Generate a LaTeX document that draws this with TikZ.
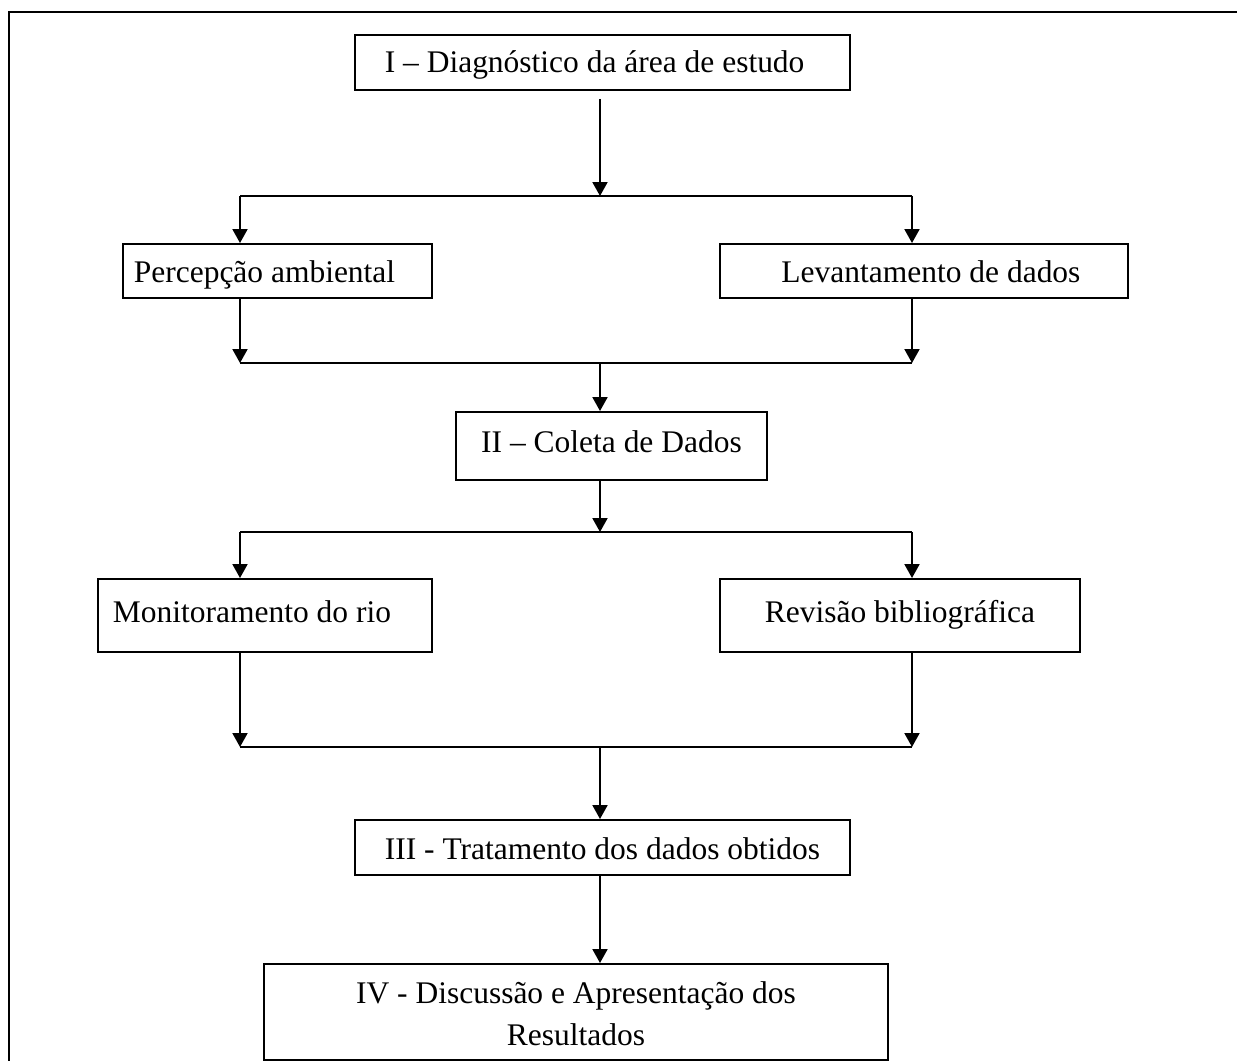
\documentclass[tikz,border=0pt]{standalone}
\usepackage{fontspec}
\setmainfont{Liberation Serif}
\usetikzlibrary{arrows.meta,positioning}

\begin{document}
\begin{tikzpicture}[
    x=0.0134cm, y=-0.0134cm,
    stage/.style={rectangle, draw, line width=0.75pt, inner sep=0pt, align=center, text depth=1.8pt, font=\fontsize{12}{16}\selectfont},
    nudge/.style={execute at begin node={\hspace*{#1}}},
    arrow/.style={-{Triangle[width=5.7pt,length=5.3pt]}, line width=0.75pt},
    link/.style={line width=0.75pt}
]
\useasboundingbox (0,0) rectangle (1237,1061);
\clip (0,0) rectangle (1237,1061);

% Frame
\draw[line width=1.1pt] (9,1100) -- (9,12) -- (1280,12);

% Stages
\node[stage, text height=9.8pt, nudge=-6pt, minimum width=495*0.0134cm, minimum height=55*0.0134cm] (diag) at (602.5,62.5) {I -- Diagnóstico da área de estudo};
\node[stage, text height=10.9pt, nudge=-9.9pt, minimum width=309*0.0134cm, minimum height=54*0.0134cm] (perc) at (277.5,271) {Percepção ambiental};
\node[stage, text height=10.9pt, nudge=5.3pt, minimum width=408*0.0134cm, minimum height=54*0.0134cm] (lev) at (924,271) {Levantamento de dados};
\node[stage, text height=7.1pt, minimum width=311*0.0134cm, minimum height=68*0.0134cm] (coleta) at (611.5,446) {II -- Coleta de Dados};
\node[stage, text height=6.8pt, nudge=-9.9pt, minimum width=334*0.0134cm, minimum height=73*0.0134cm] (monit) at (265,615.5) {Monitoramento do rio};
\node[stage, text height=6.8pt, minimum width=360*0.0134cm, minimum height=73*0.0134cm] (rev) at (900,615.5) {Revisão bibliográfica};
\node[stage, text height=10.6pt, minimum width=495*0.0134cm, minimum height=55*0.0134cm] (trat) at (602.5,847.5) {III - Tratamento dos dados obtidos};
\node[stage, text height=25.2pt, text depth=0pt, minimum width=624*0.0134cm, minimum height=96*0.0134cm] (disc) at (576,1012) {IV - Discussão e Apresentação dos\\Resultados};

% Split and merge points
\coordinate (split1) at (600,196);
\coordinate (split1l) at (240,196);
\coordinate (split1r) at (912,196);
\coordinate (merge1) at (600,363);
\coordinate (merge1l) at (240,363);
\coordinate (merge1r) at (912,363);
\coordinate (split2) at (600,532);
\coordinate (split2l) at (240,532);
\coordinate (split2r) at (912,532);
\coordinate (merge2) at (600,747);
\coordinate (merge2l) at (240,747);
\coordinate (merge2r) at (912,747);

% Connectors
\draw[arrow, shorten <=8*0.0134cm] (diag.south -| split1) -- (split1);
\draw[link] (split1l) -- (split1r);
\draw[arrow] (split1l) -- (split1l |- perc.north);
\draw[arrow] (split1r) -- (split1r |- lev.north);
\draw[arrow] (perc.south -| merge1l) -- (merge1l);
\draw[arrow] (lev.south -| merge1r) -- (merge1r);
\draw[link] (merge1l) -- (merge1r);
\draw[arrow] (merge1) -- (coleta.north -| merge1);

\draw[arrow] (coleta.south -| split2) -- (split2);
\draw[link] (split2l) -- (split2r);
\draw[arrow] (split2l) -- (split2l |- monit.north);
\draw[arrow] (split2r) -- (split2r |- rev.north);
\draw[arrow] (monit.south -| merge2l) -- (merge2l);
\draw[arrow] (rev.south -| merge2r) -- (merge2r);
\draw[link] (merge2l) -- (merge2r);
\draw[arrow] (merge2) -- (trat.north -| merge2);
\draw[arrow] (trat.south -| merge2) -- (disc.north -| merge2);

\end{tikzpicture}
\end{document}
